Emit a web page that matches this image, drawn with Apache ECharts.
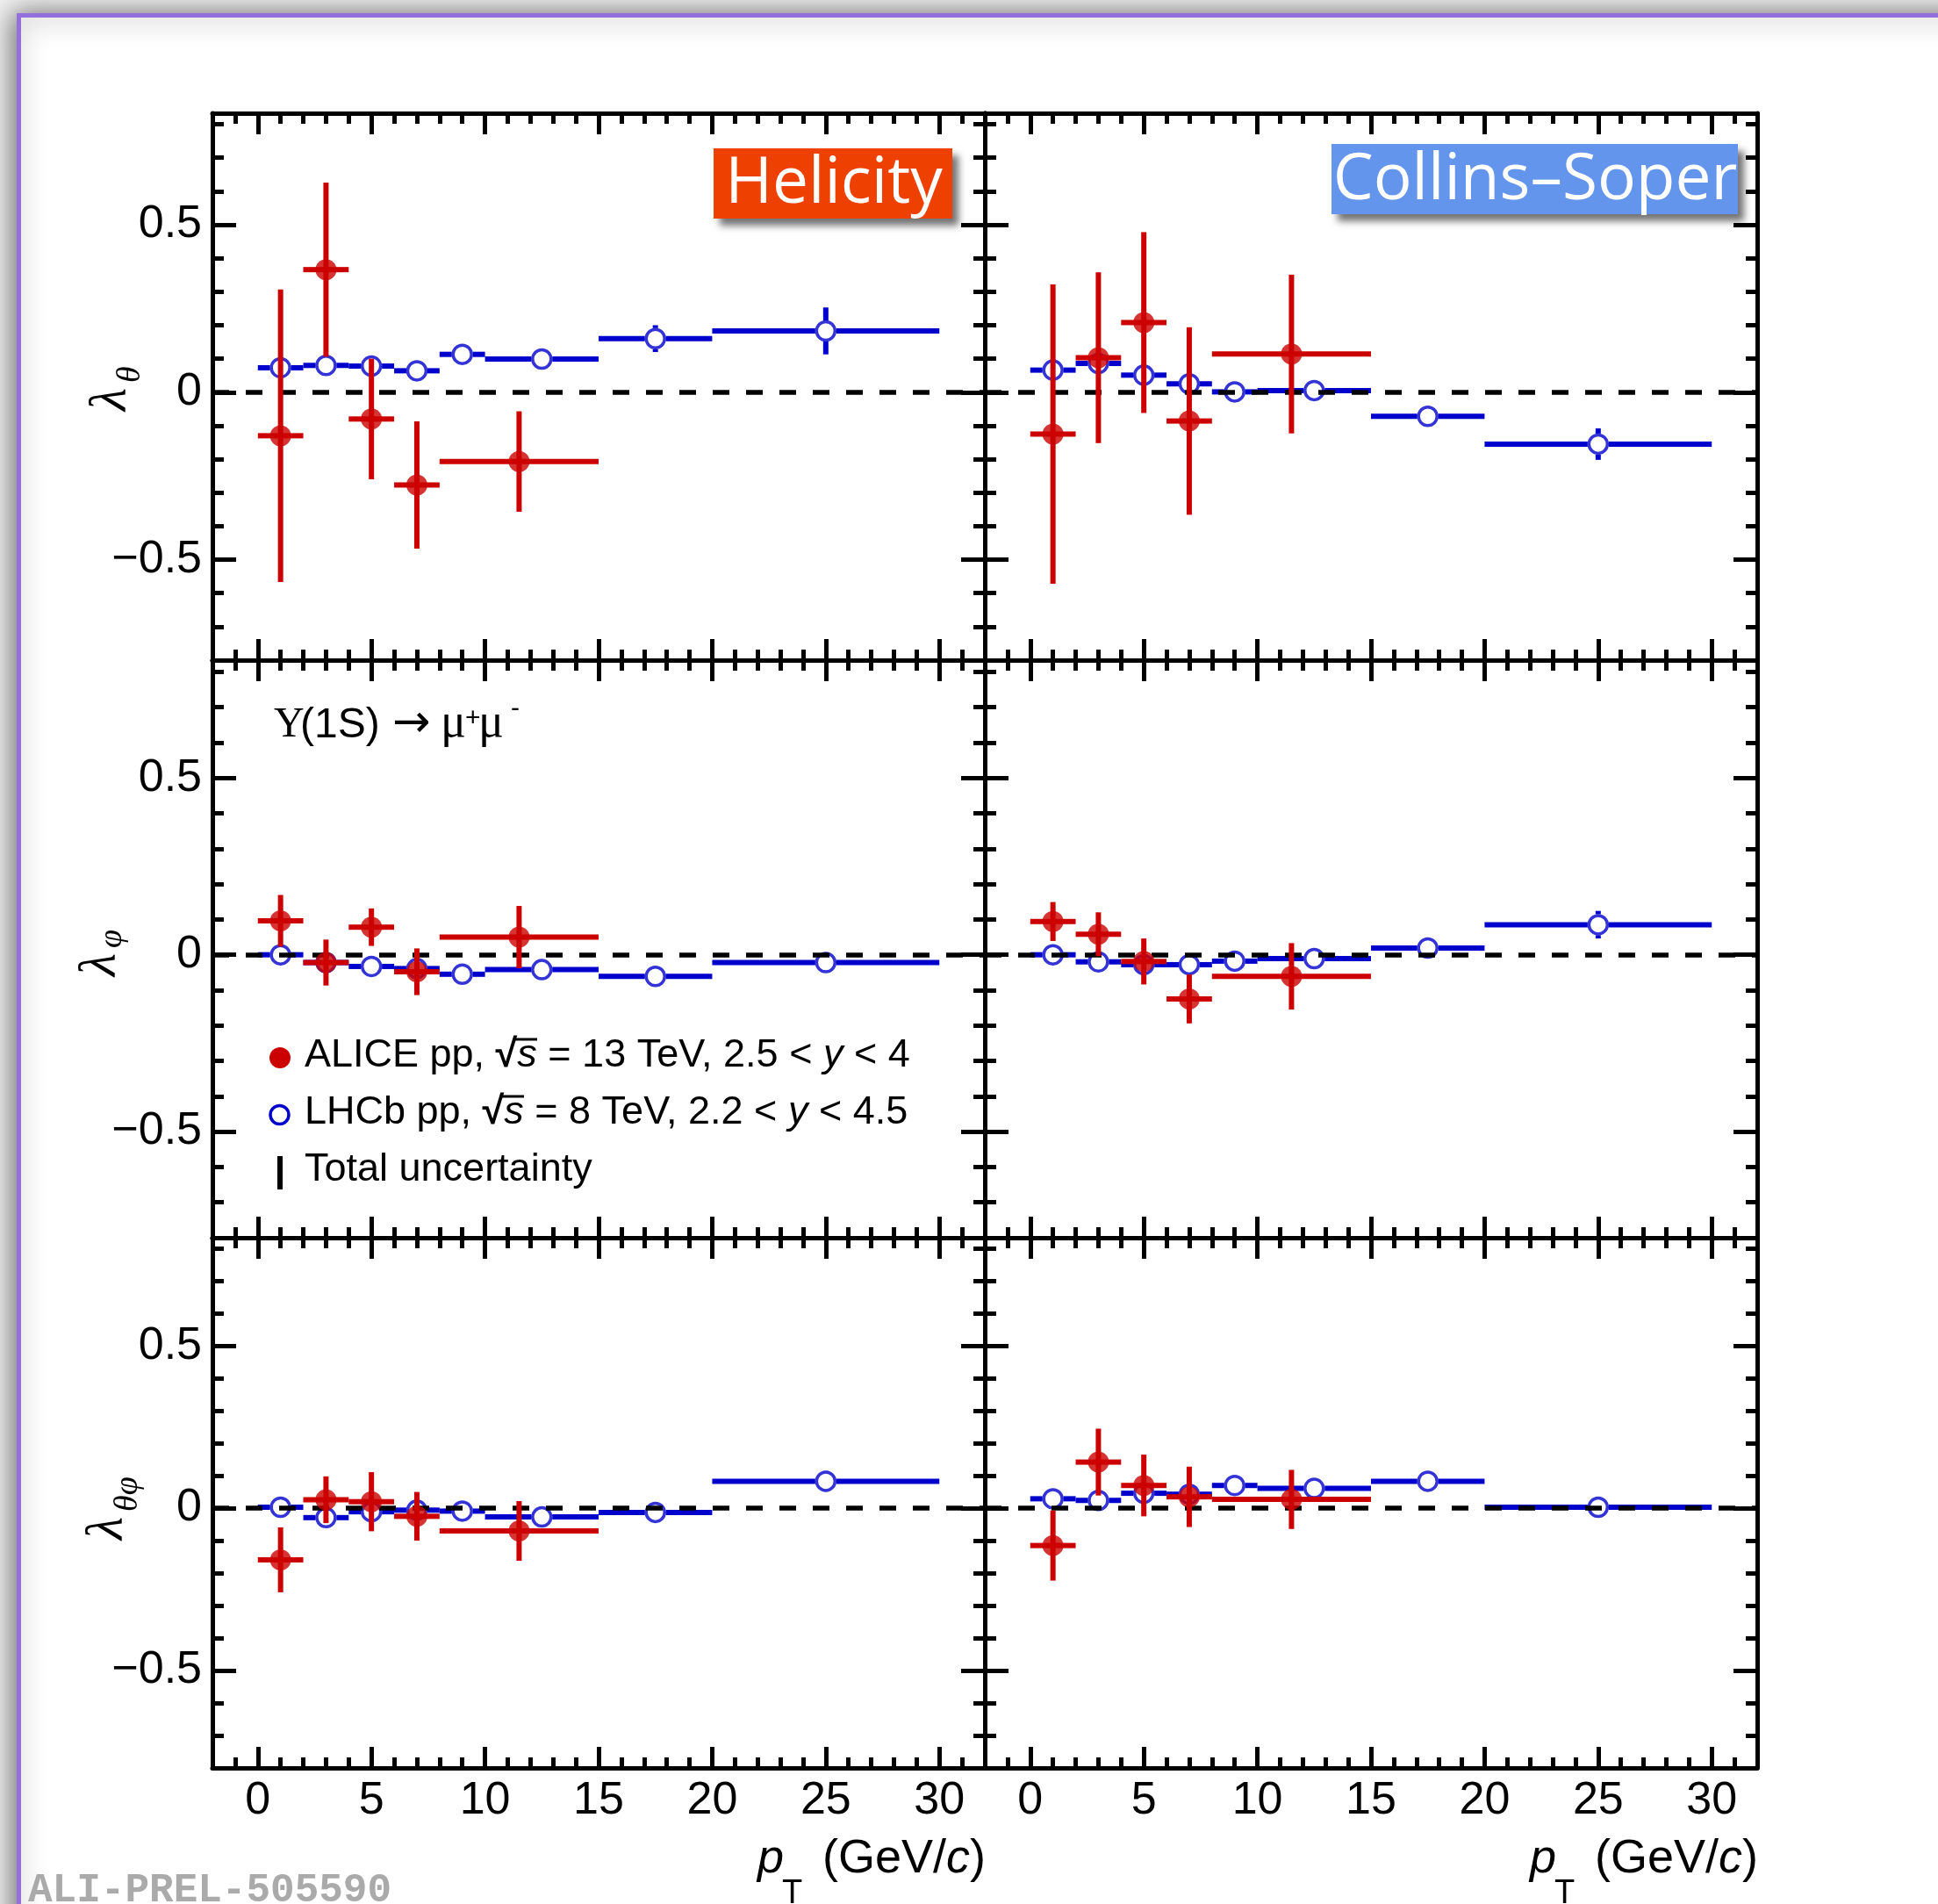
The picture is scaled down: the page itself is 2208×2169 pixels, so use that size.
<!DOCTYPE html>
<html><head><meta charset="utf-8">
<script src="https://cdn.jsdelivr.net/npm/echarts@6/dist/echarts.min.js"></script>
<style>html,body{margin:0;padding:0;background:#fff}#c{width:2208px;height:2169px}</style>
</head><body><div id="c"></div><script>
// ---------------- data ----------------
const ptAliceCenter = [1, 3, 5, 7, 11.5];
const ptAliceLow = [0, 2, 4, 6, 8];
const ptAliceHigh = [2, 4, 6, 8, 15];
const ptLhcbCenter = [1, 3, 5, 7, 9, 12.5, 17.5, 25];
const ptLhcbLow = [0, 2, 4, 6, 8, 10, 15, 20];
const ptLhcbHigh = [2, 4, 6, 8, 10, 15, 20, 30];

const aliceHelicityLambdaTheta = [-0.13, 0.366, -0.08, -0.277, -0.207];
const aliceHelicityLambdaThetaErr = [0.437, 0.26, 0.18, 0.19, 0.15];
const aliceCSLambdaTheta = [-0.125, 0.103, 0.208, -0.086, 0.114];
const aliceCSLambdaThetaErr = [0.447, 0.255, 0.27, 0.28, 0.237];
const aliceHelicityLambdaPhi = [0.096, -0.022, 0.078, -0.048, 0.05];
const aliceHelicityLambdaPhiErr = [0.073, 0.065, 0.053, 0.066, 0.088];
const aliceCSLambdaPhi = [0.094, 0.058, -0.019, -0.125, -0.061];
const aliceCSLambdaPhiErr = [0.055, 0.062, 0.065, 0.069, 0.094];
const aliceHelicityLambdaThetaPhi = [-0.159, 0.026, 0.02, -0.025, -0.07];
const aliceHelicityLambdaThetaPhiErr = [0.10, 0.072, 0.091, 0.075, 0.092];
const aliceCSLambdaThetaPhi = [-0.115, 0.142, 0.07, 0.035, 0.027];
const aliceCSLambdaThetaPhiErr = [0.108, 0.103, 0.095, 0.093, 0.091];

const lhcbHelicityLambdaTheta = [0.073, 0.08, 0.078, 0.064, 0.113, 0.099, 0.16, 0.183];
const lhcbHelicityLambdaThetaErr = [0.02, 0.02, 0.02, 0.02, 0.02, 0.02, 0.04, 0.07];
const lhcbCSLambdaTheta = [0.066, 0.086, 0.051, 0.025, 0.001, 0.005, -0.072, -0.155];
const lhcbCSLambdaThetaErr = [0.02, 0.02, 0.02, 0.02, 0.02, 0.02, 0.025, 0.047];
const lhcbHelicityLambdaPhi = [0.0, -0.022, -0.033, -0.039, -0.055, -0.042, -0.061, -0.022];
const lhcbHelicityLambdaPhiErr = [0.01, 0.01, 0.01, 0.01, 0.01, 0.01, 0.015, 0.02];
const lhcbCSLambdaPhi = [0.0, -0.02, -0.028, -0.028, -0.018, -0.011, 0.019, 0.085];
const lhcbCSLambdaPhiErr = [0.01, 0.01, 0.01, 0.01, 0.01, 0.01, 0.015, 0.039];
const lhcbHelicityLambdaThetaPhi = [0.003, -0.029, -0.011, -0.006, -0.009, -0.027, -0.013, 0.083];
const lhcbHelicityLambdaThetaPhiErr = [0.01, 0.01, 0.01, 0.01, 0.01, 0.01, 0.015, 0.033];
const lhcbCSLambdaThetaPhi = [0.029, 0.024, 0.046, 0.043, 0.07, 0.061, 0.083, 0.003];
const lhcbCSLambdaThetaPhiErr = [0.01, 0.01, 0.01, 0.01, 0.01, 0.01, 0.015, 0.02];

const xTickLabels = [0, 5, 10, 15, 20, 25, 30];
const yTickLabels = [-0.5, 0, 0.5];
const X_MIN = -2, X_MAX = 32, Y_MIN = -0.8, Y_MAX = 0.833;

// ---------------- layout ----------------
const rowsGeo = [[129, 623], [752, 658], [1410, 604]];
const colsGeo = [[242, 880], [1122, 880]];
const RED = '#CC0000', BLUE = '#0000CC';
const SANS = '"Liberation Sans", Arial, Helvetica, sans-serif';

const panels = [
  {row: 0, col: 0, a: aliceHelicityLambdaTheta, ae: aliceHelicityLambdaThetaErr, l: lhcbHelicityLambdaTheta, le: lhcbHelicityLambdaThetaErr},
  {row: 0, col: 1, a: aliceCSLambdaTheta, ae: aliceCSLambdaThetaErr, l: lhcbCSLambdaTheta, le: lhcbCSLambdaThetaErr},
  {row: 1, col: 0, a: aliceHelicityLambdaPhi, ae: aliceHelicityLambdaPhiErr, l: lhcbHelicityLambdaPhi, le: lhcbHelicityLambdaPhiErr},
  {row: 1, col: 1, a: aliceCSLambdaPhi, ae: aliceCSLambdaPhiErr, l: lhcbCSLambdaPhi, le: lhcbCSLambdaPhiErr},
  {row: 2, col: 0, a: aliceHelicityLambdaThetaPhi, ae: aliceHelicityLambdaThetaPhiErr, l: lhcbHelicityLambdaThetaPhi, le: lhcbHelicityLambdaThetaPhiErr},
  {row: 2, col: 1, a: aliceCSLambdaThetaPhi, ae: aliceCSLambdaThetaPhiErr, l: lhcbCSLambdaThetaPhi, le: lhcbCSLambdaThetaPhiErr}
];

function fmtNum(v) { return v < 0 ? '\u2212' + Math.abs(v) : String(v); }

const grids = [], xAxes = [], yAxes = [], series = [];
const tickStyle = {color: '#000', width: 5};
const lineStyleAxis = {color: '#000', width: 5};

function errRender(color, gap) {
  return function (params, api) {
    const xc = api.value(0), y = api.value(1), xl = api.value(2), xh = api.value(3), e = api.value(4);
    const pc = api.coord([xc, y]);
    const pl = api.coord([xl, y]);
    const ph = api.coord([xh, y]);
    const pu = api.coord([xc, y + e]);
    const pd = api.coord([xc, y - e]);
    const st = {stroke: color, lineWidth: 6, lineCap: 'butt'};
    const ch = [];
    const seg = (x1, y1, x2, y2) => ch.push({type: 'line', shape: {x1, y1, x2, y2}, style: st});
    if (pc[0] - gap > pl[0]) seg(pl[0], pc[1], pc[0] - gap, pc[1]);
    if (ph[0] > pc[0] + gap) seg(pc[0] + gap, pc[1], ph[0], pc[1]);
    if (pc[1] - gap > pu[1]) seg(pc[0], pu[1], pc[0], pc[1] - gap);
    if (pd[1] > pc[1] + gap) seg(pc[0], pc[1] + gap, pc[0], pd[1]);
    return {type: 'group', children: ch};
  };
}

panels.forEach((p, g) => {
  const [top, h] = rowsGeo[p.row];
  const [left, w] = colsGeo[p.col];
  grids.push({left: left, top: top, width: w, height: h, containLabel: false, outerBoundsMode: 'none'});
  const xb = {type: 'value', gridIndex: g, min: X_MIN, max: X_MAX, interval: 1, splitLine: {show: false}};
  const showX = p.row === 2;
  const minorX = (pos) => Object.assign({}, xb, {position: pos,
    axisLine: {show: true, onZero: false, lineStyle: lineStyleAxis},
    axisTick: {show: true, inside: true, length: 12, lineStyle: tickStyle},
    axisLabel: {show: false}});
  const majorX = (pos, lab) => Object.assign({}, xb, {position: pos,
    axisLine: {show: false, onZero: false},
    axisTick: {show: true, inside: true, length: 24, lineStyle: tickStyle, customValues: xTickLabels},
    axisLabel: {show: lab, customValues: xTickLabels, margin: 12, fontSize: 52, fontFamily: SANS, color: '#000'}});
  xAxes.push(minorX('bottom'), majorX('bottom', showX), minorX('top'), majorX('top', false));

  const yb = {type: 'value', gridIndex: g, min: Y_MIN, max: Y_MAX, interval: 0.1, splitLine: {show: false}};
  const showY = p.col === 0;
  const minorY = (pos) => Object.assign({}, yb, {position: pos,
    axisLine: {show: true, onZero: false, lineStyle: lineStyleAxis},
    axisTick: {show: true, inside: true, length: 13, lineStyle: tickStyle},
    axisLabel: {show: false}});
  const majorY = (pos, lab) => Object.assign({}, yb, {position: pos,
    axisLine: {show: false, onZero: false},
    axisTick: {show: true, inside: true, length: 27, lineStyle: tickStyle, customValues: yTickLabels},
    axisLabel: {show: lab, customValues: yTickLabels, margin: 12, fontSize: 52, fontFamily: SANS, color: '#000', formatter: fmtNum}});
  yAxes.push(minorY('left'), majorY('left', showY), minorY('right'), majorY('right', false));

  const xi = 4 * g, yi = 4 * g;
  const lhcbData = ptLhcbCenter.map((x, i) => [x, p.l[i], ptLhcbLow[i], ptLhcbHigh[i], p.le[i]]);
  const aliceData = ptAliceCenter.map((x, i) => [x, p.a[i], ptAliceLow[i], ptAliceHigh[i], p.ae[i]]);
  series.push({type: 'custom', xAxisIndex: xi, yAxisIndex: yi, z: 3, silent: true,
    renderItem: errRender(BLUE, 12), encode: {x: 0, y: 1}, data: lhcbData});
  series.push({type: 'scatter', xAxisIndex: xi, yAxisIndex: yi, z: 4, silent: true,
    symbol: 'circle', symbolSize: 21,
    itemStyle: {color: 'rgba(255,255,255,0)', borderColor: BLUE, borderWidth: 3.5},
    data: lhcbData.map(d => [d[0], d[1]])});
  series.push({type: 'custom', xAxisIndex: xi, yAxisIndex: yi, z: 5, silent: true,
    renderItem: errRender(RED, 0), encode: {x: 0, y: 1}, data: aliceData});
  series.push({type: 'scatter', xAxisIndex: xi, yAxisIndex: yi, z: 6, silent: true,
    symbol: 'circle', symbolSize: 24, itemStyle: {color: RED},
    data: aliceData.map(d => [d[0], d[1]]),
    markLine: {silent: true, symbol: ['none', 'none'], label: {show: false}, animation: false,
      lineStyle: {color: '#000', width: 5.5, type: [19, 19]}, emphasis: {disabled: true},
      data: [{yAxis: 0}]}});
});

// ---------------- text helpers ----------------
const FAM = {sans: ['"Liberation Sans"', 0.3465], dejavu: ['"DejaVu Sans"', 0.346], serif: ['"Liberation Serif"', 0.3375], mono: ['"Liberation Mono"', 0.2665], open: ['"Open Sans"', 0.388]};
function T(x, base, text, fs, fam, o) {
  o = o || {};
  const f = FAM[fam];
  return {type: 'text', x: x, y: base - f[1] * fs, z: 100, silent: true,
    style: {text: text, font: (o.style || 'normal') + ' ' + (o.weight || 'normal') + ' ' + fs + 'px ' + f[0],
      fill: o.fill || '#000', textAlign: o.align || 'left', align: o.align || 'left',
      textVerticalAlign: 'middle', verticalAlign: 'middle'}};
}
function richLine(x, base, text, fs, o) {
  o = o || {};
  const k = FAM.sans[1];
  const mk = (extra) => Object.assign({fontFamily: 'Liberation Sans', fontSize: fs, lineHeight: fs, color: '#000'}, extra || {});
  return {type: 'text', x: x, y: base - k * fs, z: 100, silent: true,
    style: {text: text, font: fs + 'px "Liberation Sans"', fill: '#000', lineHeight: fs,
      textAlign: o.align || 'left', align: o.align || 'left', textVerticalAlign: 'middle', verticalAlign: 'middle',
      rich: {n: mk(), i: mk({fontStyle: 'italic'}), r: mk({fontWeight: 'bold'})}}};
}
function yTitle(x, y, subs, d) {
  const ch = [T(0, 0, '\u03bb', 60, 'serif', {style: 'italic'})];
  ch.push(T(32, d, subs, 38, 'serif', {style: 'italic'}));
  return {type: 'group', x: x, y: y, rotation: Math.PI / 2, children: ch, z: 100};
}
function xTitle(R) {
  return [
    T(R - 229, 2137, 'p', 54, 'sans', {style: 'italic', align: 'right'}),
    T(R - 231, 2171, 'T', 38, 'sans'),
    richLine(R + 1, 2137, '{n|(GeV/}{i|c}{n|)}', 54, {align: 'right'})
  ];
}
function overline(x1, x2, y) {
  return {type: 'line', z: 100, silent: true, shape: {x1: x1, y1: y, x2: x2, y2: y}, style: {stroke: '#000', lineWidth: 3}};
}

const graphics = [
  // slide frame with shadow
  {type: 'rect', z: -10, silent: true, shape: {x: 21.5, y: 17.5, width: 2300, height: 2300},
    style: {fill: '#fff', stroke: '#9370DB', lineWidth: 5, shadowBlur: 30, shadowColor: 'rgba(0,0,0,0.55)', shadowOffsetX: -4, shadowOffsetY: 0}},
  // Helicity label
  {type: 'rect', z: 90, silent: true, shape: {x: 813, y: 169, width: 272, height: 80},
    style: {fill: '#EE4000', shadowBlur: 8, shadowOffsetX: 7, shadowOffsetY: 8, shadowColor: 'rgba(0,0,0,0.55)'}},
  T(950, 239, 'Helicity', 73, 'open', {fill: '#fff', align: 'center'}),
  // Collins-Soper label
  {type: 'rect', z: 90, silent: true, shape: {x: 1517, y: 164, width: 463, height: 80},
    style: {fill: '#6495ED', shadowBlur: 8, shadowOffsetX: 7, shadowOffsetY: 8, shadowColor: 'rgba(0,0,0,0.55)'}},
  T(1749, 235, 'Collins\u2013Soper', 73, 'open', {fill: '#fff', align: 'center'}),
  // process label
  T(312, 843, '\u03a5', 48, 'serif'),
  T(342, 843, '(1S)', 48, 'sans'),
  T(447, 843, '\u2192', 52, 'dejavu'),
  T(502, 843, '\u03bc', 54, 'serif'),
  T(530, 829, '+', 30, 'sans'),
  T(545, 843, '\u03bc', 54, 'serif'),
  T(582, 818, '-', 30, 'sans'),
  // legend
  {type: 'circle', z: 100, silent: true, shape: {cx: 319, cy: 1205, r: 12}, style: {fill: RED}},
  {type: 'circle', z: 100, silent: true, shape: {cx: 318.5, cy: 1270, r: 10.5}, style: {fill: 'none', stroke: BLUE, lineWidth: 3.5}},
  {type: 'line', z: 100, silent: true, shape: {x1: 319, y1: 1317, x2: 319, y2: 1355}, style: {stroke: '#000', lineWidth: 6}},
  richLine(347, 1218, '{n|ALICE pp, }{r|\u221a}{i|s}{n| = 13 TeV, 2.5 < }{i|y}{n| < 4}', 45),
  richLine(347, 1283, '{n|LHCb pp, }{r|\u221a}{i|s}{n| = 8 TeV, 2.2 < }{i|y}{n| < 4.5}', 45),
  richLine(347, 1348, '{n|Total uncertainty}', 45),
  overline(586, 612, 1184),
  overline(571, 597, 1249),
  // y titles
  yTitle(147, 468, '\u03b8', 15),
  yTitle(135, 1112, '\u03c6', 6),
  yTitle(143, 1754, '\u03b8\u03c6', 16),
  // preliminary tag
  T(32, 2167, 'ALI-PREL-505590', 46, 'mono', {weight: 'bold', fill: '#AAAAAA'})
].concat(xTitle(1122), xTitle(2002));

const chart = echarts.init(document.getElementById('c'), null, {renderer: 'canvas', width: 2208, height: 2169});
chart.setOption({
  animation: false,
  backgroundColor: '#f2f2f2',
  grid: grids,
  xAxis: xAxes,
  yAxis: yAxes,
  series: series,
  graphic: {elements: graphics}
});
</script></body></html>
